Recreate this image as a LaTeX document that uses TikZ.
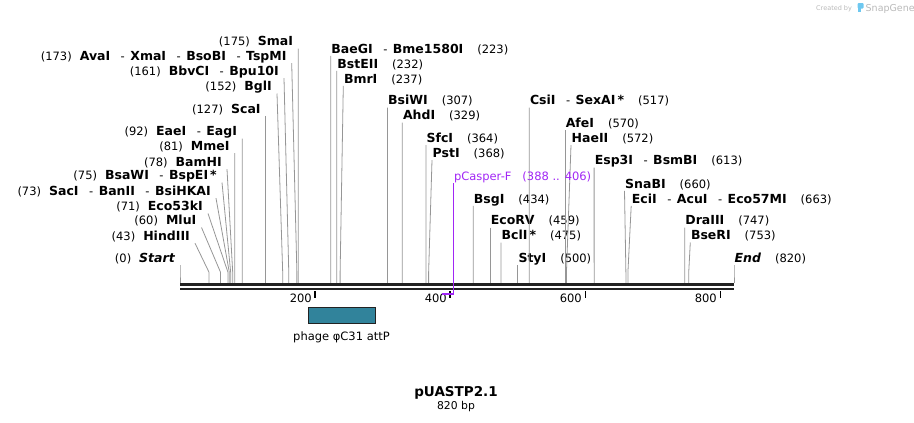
\documentclass[tikz,border=0pt]{standalone}
\usepackage{fontspec}
\setmainfont{DejaVu Sans}
\usepackage{xcolor}
\usepackage{tikz}
\usetikzlibrary{positioning}

\definecolor{cutgray}{RGB}{150,150,150}
\definecolor{dnablack}{RGB}{34,34,34}
\definecolor{attpteal}{RGB}{49,131,155}
\definecolor{primerpurple}{RGB}{161,38,245}
\definecolor{markgray}{RGB}{185,185,185}
\definecolor{markblue}{RGB}{110,200,240}

\newcommand{\enz}[1]{{\fontsize{12.5}{13}\selectfont\bfseries #1}}
\newcommand{\nsep}{\hspace{10.5pt}-\hspace{5.5pt}}
\newcommand{\lgap}{\hspace{8pt}}
\newcommand{\rgap}{\hspace{14pt}}

\tikzset{
	lsite/.style={anchor=south east, inner xsep=5pt, inner ysep=0pt, text depth=2.5pt, font=\fontsize{11.5}{13}\selectfont},
	rsite/.style={anchor=south west, inner xsep=0.5pt, inner ysep=0pt, text depth=2.5pt, font=\fontsize{11.5}{13}\selectfont},
	cut/.style={draw=cutgray, line width=0.8pt},
	strand/.style={draw=dnablack, line width=2.7pt},
	tick/.style={draw=black, line width=1.6pt},
	ticklabel/.style={anchor=base east, inner sep=0pt, font=\fontsize{11.5}{13}\selectfont},
	attpbox/.style={draw=dnablack, line width=0.6pt, fill=attpteal, minimum width=67pt, minimum height=16pt, inner sep=0pt},
	primerline/.style={draw=primerpurple, line width=1.5pt}
}

\begin{document}
\begin{tikzpicture}[x=1pt,y=-1pt]
	\useasboundingbox (0,0) rectangle (914,423);

	\coordinate (c0) at (180,283.3);
	\coordinate (c43) at (209.05,283.3);
	\coordinate (c60) at (220.54,283.3);
	\coordinate (c71) at (227.97,283.3);
	\coordinate (c73) at (229.32,283.3);
	\coordinate (c75) at (230.67,283.3);
	\coordinate (c78) at (232.70,283.3);
	\coordinate (c81) at (234.72,283.3);
	\coordinate (c92) at (242.16,283.3);
	\coordinate (c127) at (265.80,283.3);
	\coordinate (c152) at (282.69,283.3);
	\coordinate (c161) at (288.77,283.3);
	\coordinate (c173) at (296.88,283.3);
	\coordinate (c175) at (298.23,283.3);
	\coordinate (c223) at (330.66,283.3);
	\coordinate (c232) at (336.74,283.3);
	\coordinate (c237) at (340.12,283.3);
	\coordinate (c307) at (387.41,283.3);
	\coordinate (c329) at (402.28,283.3);
	\coordinate (c364) at (425.92,283.3);
	\coordinate (c368) at (428.62,283.3);
	\coordinate (c434) at (473.22,283.3);
	\coordinate (c459) at (490.10,283.3);
	\coordinate (c475) at (500.91,283.3);
	\coordinate (c500) at (517.80,283.3);
	\coordinate (c517) at (529.29,283.3);
	\coordinate (c570) at (565.10,283.3);
	\coordinate (c572) at (566.45,283.3);
	\coordinate (c613) at (594.15,283.3);
	\coordinate (c660) at (625.90,283.3);
	\coordinate (c663) at (627.93,283.3);
	\coordinate (c747) at (684.68,283.3);
	\coordinate (c753) at (688.73,283.3);
	\coordinate (c820) at (734,283.3);

	\node[lsite] (start) at (180,265.2) {(0)\lgap\enz{\itshape Start}};
	\node[lsite] (hind) at (195,243.2) {(43)\lgap\enz{HindIII}};
	\node[lsite] (mlu) at (201.5,227.5) {(60)\lgap\enz{MluI}};
	\node[lsite] (eco53) at (208,213.5) {(71)\lgap\enz{Eco53kI}};
	\node[lsite] (sac) at (216,198.2) {(73)\lgap\enz{SacI}\nsep\enz{BanII}\nsep\enz{BsiHKAI}};
	\node[lsite] (bsaw) at (222,182.5) {(75)\lgap\enz{BsaWI}\nsep\enz{BspEI\,*}};
	\node[lsite] (bamh) at (227,169.2) {(78)\lgap\enz{BamHI}};
	\node[lsite] (mme) at (234.7,153.2) {(81)\lgap\enz{MmeI}};
	\node[lsite] (eae) at (242.2,138.5) {(92)\lgap\enz{EaeI}\nsep\enz{EagI}};
	\node[lsite] (sca) at (265.8,115.8) {(127)\lgap\enz{ScaI}};
	\node[lsite] (bgl) at (277,93.5) {(152)\lgap\enz{BglI}};
	\node[lsite] (bbvc) at (284,78.2) {(161)\lgap\enz{BbvCI}\nsep\enz{Bpu10I}};
	\node[lsite] (ava) at (291.7,63.2) {(173)\lgap\enz{AvaI}\nsep\enz{XmaI}\nsep\enz{BsoBI}\nsep\enz{TspMI}};
	\node[lsite] (sma) at (298.2,48.5) {(175)\lgap\enz{SmaI}};

	\node[rsite] (baeg) at (330.7,55.8) {\enz{BaeGI}\nsep\enz{Bme1580I}\rgap(223)};
	\node[rsite] (bste) at (336.7,70.8) {\enz{BstEII}\rgap(232)};
	\node[rsite] (bmr) at (343.3,85.8) {\enz{BmrI}\rgap(237)};
	\node[rsite] (bsiw) at (387.4,107.5) {\enz{BsiWI}\rgap(307)};
	\node[rsite] (ahd) at (402.3,122.5) {\enz{AhdI}\rgap(329)};
	\node[rsite] (sfc) at (425.9,145.2) {\enz{SfcI}\rgap(364)};
	\node[rsite] (pst) at (432,160.2) {\enz{PstI}\rgap(368)};
	\node[rsite] (bsg) at (473.2,205.8) {\enz{BsgI}\rgap(434)};
	\node[rsite] (ecorv) at (490.1,227.5) {\enz{EcoRV}\rgap(459)};
	\node[rsite] (bcl) at (500.9,242.5) {\enz{BclI\,*}\rgap(475)};
	\node[rsite] (sty) at (517.8,265.2) {\enz{StyI}\rgap(500)};
	\node[rsite] (csi) at (529.3,107.5) {\enz{CsiI}\nsep\enz{SexAI\,*}\rgap(517)};
	\node[rsite] (afe) at (565.1,130.2) {\enz{AfeI}\rgap(570)};
	\node[rsite] (hae) at (571,145.2) {\enz{HaeII}\rgap(572)};
	\node[rsite] (esp) at (594.1,167.5) {\enz{Esp3I}\nsep\enz{BsmBI}\rgap(613)};
	\node[rsite] (snab) at (624.5,190.8) {\enz{SnaBI}\rgap(660)};
	\node[rsite] (eci) at (631.2,205.8) {\enz{EciI}\nsep\enz{AcuI}\nsep\enz{Eco57MI}\rgap(663)};
	\node[rsite] (dra) at (684.7,227.5) {\enz{DraIII}\rgap(747)};
	\node[rsite] (bser) at (690.3,242.5) {\enz{BseRI}\rgap(753)};
	\node[rsite] (fin) at (734,265.2) {\enz{\itshape End}\rgap(820)};

	\draw[cut] (start.south east) -- ([yshift=11pt]c0) -- (c0);
	\draw[cut] (hind.south east) -- ([yshift=11pt]c43) -- (c43);
	\draw[cut] (mlu.south east) -- ([yshift=11pt]c60) -- (c60);
	\draw[cut] (eco53.south east) -- ([yshift=11pt]c71) -- (c71);
	\draw[cut] (sac.south east) -- ([yshift=11pt]c73) -- (c73);
	\draw[cut] (bsaw.south east) -- ([yshift=11pt]c75) -- (c75);
	\draw[cut] (bamh.south east) -- ([yshift=11pt]c78) -- (c78);
	\draw[cut] (mme.south east) -- ([yshift=11pt]c81) -- (c81);
	\draw[cut] (eae.south east) -- ([yshift=11pt]c92) -- (c92);
	\draw[cut] (sca.south east) -- ([yshift=11pt]c127) -- (c127);
	\draw[cut] (bgl.south east) -- ([yshift=11pt]c152) -- (c152);
	\draw[cut] (bbvc.south east) -- ([yshift=11pt]c161) -- (c161);
	\draw[cut] (ava.south east) -- ([yshift=11pt]c173) -- (c173);
	\draw[cut] (sma.south east) -- ([yshift=11pt]c175) -- (c175);

	\draw[cut] (baeg.south west) -- ([yshift=11pt]c223) -- (c223);
	\draw[cut] (bste.south west) -- ([yshift=11pt]c232) -- (c232);
	\draw[cut] (bmr.south west) -- ([yshift=11pt]c237) -- (c237);
	\draw[cut] (bsiw.south west) -- ([yshift=11pt]c307) -- (c307);
	\draw[cut] (ahd.south west) -- ([yshift=11pt]c329) -- (c329);
	\draw[cut] (sfc.south west) -- ([yshift=11pt]c364) -- (c364);
	\draw[cut] (pst.south west) -- ([yshift=11pt]c368) -- (c368);
	\draw[cut] (bsg.south west) -- ([yshift=11pt]c434) -- (c434);
	\draw[cut] (ecorv.south west) -- ([yshift=11pt]c459) -- (c459);
	\draw[cut] (bcl.south west) -- ([yshift=11pt]c475) -- (c475);
	\draw[cut] (sty.south west) -- ([yshift=11pt]c500) -- (c500);
	\draw[cut] (csi.south west) -- ([yshift=11pt]c517) -- (c517);
	\draw[cut] (afe.south west) -- ([yshift=11pt]c570) -- (c570);
	\draw[cut] (hae.south west) -- ([yshift=11pt]c572) -- (c572);
	\draw[cut] (esp.south west) -- ([yshift=11pt]c613) -- (c613);
	\draw[cut] (snab.south west) -- ([yshift=11pt]c660) -- (c660);
	\draw[cut] (eci.south west) -- ([yshift=11pt]c663) -- (c663);
	\draw[cut] (dra.south west) -- ([yshift=11pt]c747) -- (c747);
	\draw[cut] (bser.south west) -- ([yshift=11pt]c753) -- (c753);
	\draw[cut] (fin.south west) -- ([yshift=11pt]c820) -- (c820);

	\draw[strand] (180,284.7) -- (734,284.7);
	\draw[strand, line width=2pt] (180,289.3) -- (734,289.3);

	\draw[tick] (315.1,291) -- (315.1,298);
	\draw[tick] (450.2,291) -- (450.2,298);
	\draw[tick] (585.4,291) -- (585.4,298);
	\draw[tick] (720.5,291) -- (720.5,298);
	\node[ticklabel] (t200) at (312,302) {200};
	\node[ticklabel] (t400) at (447,302) {400};
	\node[ticklabel] (t600) at (582,302) {600};
	\node[ticklabel] (t800) at (717,302) {800};

	\coordinate (p388) at (442.1,294);
	\node[rsite, text=primerpurple] (pcas) at (453.3,183.2) {pCasper-F\hspace{11pt}(388 .. 406)};
	\draw[primerline] (pcas.south west) |- (p388);

	\node[attpbox] (attp) at (341.5,315) {};
	\node[below=8pt of attp, inner sep=0pt, font=\fontsize{11.5}{13}\selectfont] (attplabel) {phage φC31 attP};

	\node[anchor=base, font=\bfseries\fontsize{13.5}{15}\selectfont] (title) at (456,396.7) {pUASTP2.1};
	\node[anchor=base, font=\fontsize{10.8}{12}\selectfont] (size) at (456,409.3) {820 bp};

	\node[anchor=base west, inner sep=0pt, text=markgray, font=\fontsize{6.5}{7}\selectfont] (created) at (816,10.5) {Created by};
	\fill[markblue, rounded corners=1pt] (857.5,3) rectangle (863.5,8.5);
	\fill[markblue] (857.5,6) rectangle (860.5,12);
	\node[anchor=base west, inner sep=0pt, text=markgray, font=\fontsize{9.5}{10}\selectfont] (snapgene) at (865.5,11) {SnapGene};

\end{tikzpicture}
\end{document}
